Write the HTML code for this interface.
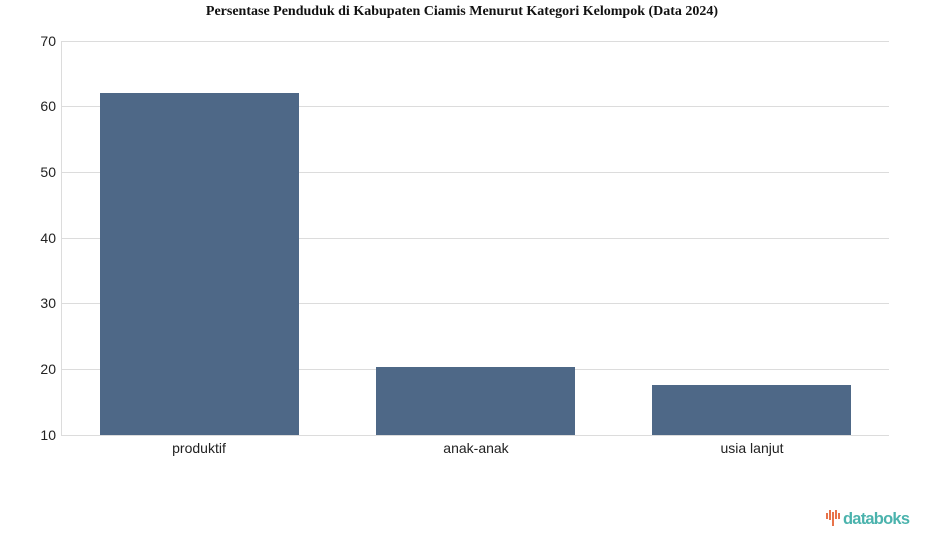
<!DOCTYPE html>
<html><head><meta charset="utf-8"><style>
body{margin:0;background:#fff;width:925px;height:547px;overflow:hidden}
svg{display:block}
</style></head><body>
<svg width="925" height="547" xmlns="http://www.w3.org/2000/svg">
<text x="462" y="15" text-anchor="middle" font-family="Liberation Serif, serif" font-weight="bold" font-size="14" fill="#111">Persentase Penduduk di Kabupaten Ciamis Menurut Kategori Kelompok (Data 2024)</text>
<g stroke="#dcdcdc" stroke-width="1">
<line x1="61" x2="889" y1="41.5" y2="41.5"/>
<line x1="61" x2="889" y1="106.5" y2="106.5"/>
<line x1="61" x2="889" y1="172.5" y2="172.5"/>
<line x1="61" x2="889" y1="238.5" y2="238.5"/>
<line x1="61" x2="889" y1="303.5" y2="303.5"/>
<line x1="61" x2="889" y1="369.5" y2="369.5"/>
<line x1="61" x2="889" y1="435.5" y2="435.5"/>
<line x1="61.5" x2="61.5" y1="41" y2="435"/>
</g>
<g font-family="Liberation Sans, sans-serif" font-size="14" fill="#222" text-anchor="end">
<text x="56" y="46">70</text><text x="56" y="111">60</text><text x="56" y="177">50</text>
<text x="56" y="243">40</text><text x="56" y="308">30</text><text x="56" y="374">20</text><text x="56" y="440">10</text>
</g>
<g fill="#4e6887">
<rect x="100" y="93" width="199" height="342"/>
<rect x="376" y="367" width="199" height="68"/>
<rect x="652" y="385" width="199" height="50"/>
</g>
<g font-family="Liberation Sans, sans-serif" font-size="14" fill="#222" text-anchor="middle">
<text x="199" y="453">produktif</text><text x="476" y="453">anak-anak</text><text x="752" y="453">usia lanjut</text>
</g>
<g fill="#e8734a">
<rect x="826" y="513" width="2" height="6"/><rect x="829" y="510" width="2" height="10"/>
<rect x="832" y="512" width="2" height="14"/><rect x="835" y="510" width="2" height="9"/><rect x="838" y="513" width="2" height="6"/>
</g>
<text x="843" y="524" font-family="Liberation Sans, sans-serif" font-size="16.5" font-weight="bold" fill="#4bb3ad" textLength="67">databoks</text>
</svg>
</body></html>
